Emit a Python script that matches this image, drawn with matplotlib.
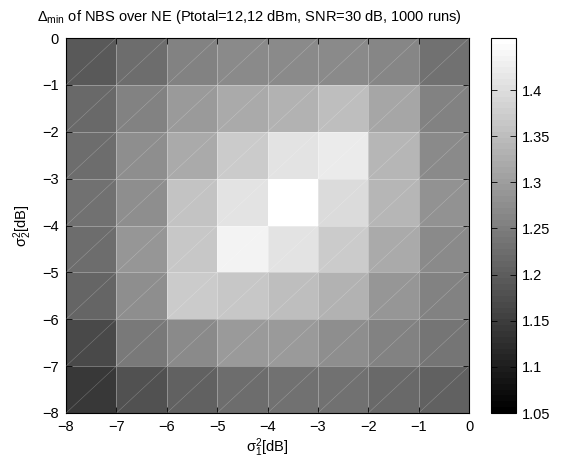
import numpy as np
import matplotlib
matplotlib.use("Agg")
import matplotlib.pyplot as plt
from matplotlib.colors import ListedColormap, Normalize

plt.rcParams['font.family'] = ['Liberation Sans', 'DejaVu Sans']
plt.rcParams['mathtext.fontset'] = 'custom'
plt.rcParams['mathtext.rm'] = 'Liberation Sans'
plt.rcParams['mathtext.it'] = 'Liberation Sans'
plt.rcParams['mathtext.bf'] = 'Liberation Sans:bold'
plt.rcParams['axes.unicode_minus'] = True

# grid edges (dB)
sigma1_edges = [-8, -7, -6, -5, -4, -3, -2, -1, 0]
sigma2_edges = [0, -1, -2, -3, -4, -5, -6, -7, -8]   # top row first

# Delta_min values, rows from sigma2 = 0 (top) down to -8 (bottom)
delta_min = [
    [1.193, 1.225, 1.254, 1.270, 1.270, 1.270, 1.264, 1.229],
    [1.219, 1.254, 1.295, 1.318, 1.331, 1.350, 1.315, 1.254],
    [1.222, 1.273, 1.321, 1.369, 1.407, 1.423, 1.337, 1.270],
    [1.229, 1.276, 1.356, 1.410, 1.456, 1.394, 1.337, 1.280],
    [1.225, 1.289, 1.362, 1.433, 1.407, 1.369, 1.321, 1.270],
    [1.213, 1.273, 1.369, 1.362, 1.350, 1.331, 1.289, 1.254],
    [1.168, 1.241, 1.270, 1.292, 1.292, 1.273, 1.254, 1.235],
    [1.139, 1.178, 1.206, 1.225, 1.232, 1.229, 1.216, 1.203],
]
clim = [1.05, 1.4565]
cbar_ticks = [1.05, 1.1, 1.15, 1.2, 1.25, 1.3, 1.35, 1.4]
axis_ticks = [-8, -7, -6, -5, -4, -3, -2, -1, 0]

W, H = 561, 462
fig = plt.figure(figsize=(W / 100, H / 100), dpi=100)

def box(x0, y0, x1, y1):
    return [x0 / W, 1 - y1 / H, (x1 - x0) / W, (y1 - y0) / H]

ax = fig.add_axes(box(66, 38, 469, 413))
cax = fig.add_axes(box(491, 38, 516, 413))

cmap = ListedColormap(plt.cm.gray(np.linspace(0, 1, 64)))
norm = Normalize(vmin=clim[0], vmax=clim[1])

X, Y = np.meshgrid(sigma1_edges, sigma2_edges)
Z = np.array(delta_min)
mesh = ax.pcolormesh(X, Y, Z, cmap=cmap, norm=norm,
                     edgecolors=(1, 1, 1, 0.3), linewidth=0.5)

# triangulation diagonals (faceted surface)
x0, x1 = min(sigma1_edges), max(sigma1_edges)
y0, y1 = min(sigma2_edges), max(sigma2_edges)
for k in range(-8, 9):
    xs = np.array([x0, x1], dtype=float)
    ys = xs - k
    ax.plot(xs, ys, color=(1, 1, 1, 0.28), linewidth=0.4, zorder=3)

ax.set_xlim(x0, x1)
ax.set_ylim(y0, y1)
ax.set_xticks(axis_ticks)
ax.set_yticks(axis_ticks)
ax.tick_params(direction='in', top=True, right=True, length=4, width=0.6,
               labelsize=10.5)
ax.tick_params(axis='x', pad=5)
ax.tick_params(axis='y', pad=5)
for s in ax.spines.values():
    s.set_linewidth(0.8)

ax.set_xlabel(r'$\sigma_1^2$[dB]', fontsize=10.5, labelpad=2)
ax.set_ylabel(r'$\sigma_2^2$[dB]', fontsize=10.5, labelpad=6)

fig.text((249) / W, 1 - 17 / H,
         r'$\Delta_{\rm min}$ of NBS over NE (Ptotal=12,12 dBm, SNR=30 dB, 1000 runs)',
         ha='center', va='center', fontsize=10.5)

cb = fig.colorbar(mesh, cax=cax, ticks=cbar_ticks)
cb.ax.set_yticklabels([f'{t:g}' for t in cbar_ticks])
cax.tick_params(direction='in', left=True, right=True, length=4, width=0.6,
                labelsize=10.5, pad=4)
cb.outline.set_linewidth(0.8)

fig.savefig('out.png', dpi=100)
